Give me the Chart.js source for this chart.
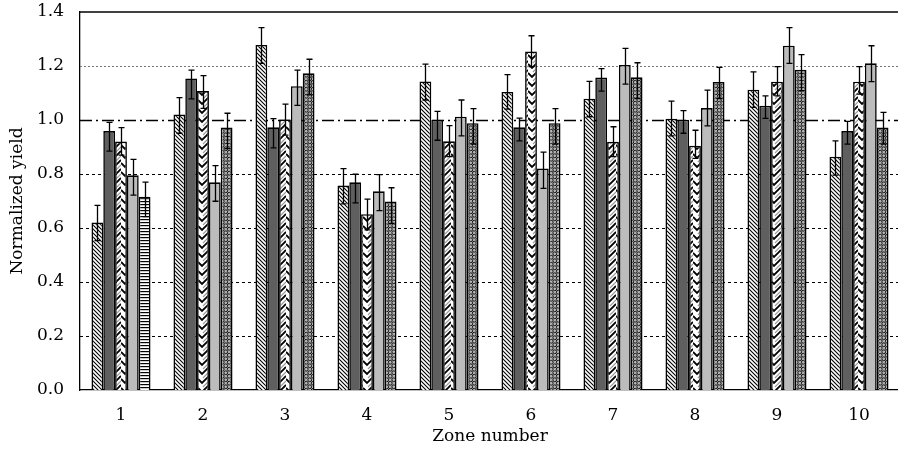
<!DOCTYPE html>
<html>
<head>
<meta charset="utf-8">
<script src="https://cdn.jsdelivr.net/npm/chart.js@4.4.1/dist/chart.umd.min.js"></script>
<style>
  body { margin: 0; overflow: hidden; background: #fff; }
</style>
</head>
<body>
<canvas id="grafico" width="900" height="449"></canvas>
<script>
const zones = ['1', '2', '3', '4', '5', '6', '7', '8', '9', '10'];
const yTicks = [0, 0.2, 0.4, 0.6, 0.8, 1.0, 1.2, 1.4];

// bar heights for each of the five series
const serie1 = [0.62, 1.02, 1.278, 0.757, 1.143, 1.104, 1.079, 1.005, 1.112, 0.864];
const serie2 = [0.959, 1.154, 0.973, 0.769, 1.001, 0.973, 1.157, 1.001, 1.053, 0.959];
const serie3 = [0.92, 1.107, 1.002, 0.651, 0.921, 1.254, 0.919, 0.905, 1.142, 1.142];
const serie4 = [0.795, 0.769, 1.125, 0.736, 1.012, 0.82, 1.204, 1.044, 1.275, 1.21];
const serie5 = [0.716, 0.972, 1.173, 0.698, 0.988, 0.988, 1.158, 1.141, 1.186, 0.972];

// error bar ends [low, high]
const err1 = [[0.553, 0.684], [0.951, 1.083], [1.21, 1.342], [0.689, 0.82], [1.074, 1.207], [1.04, 1.168], [1.012, 1.143], [0.941, 1.07], [1.047, 1.178], [0.796, 0.923]];
const err2 = [[0.885, 0.991], [1.078, 1.185], [0.897, 1.005], [0.693, 0.799], [0.925, 1.032], [0.923, 1.007], [1.107, 1.19], [0.951, 1.035], [1.006, 1.089], [0.911, 0.995]];
const err3 = [[0.87, 0.972], [1.043, 1.164], [0.944, 1.059], [0.593, 0.707], [0.864, 0.979], [1.198, 1.312], [0.864, 0.975], [0.858, 0.962], [1.089, 1.198], [1.096, 1.198]];
const err4 = [[0.722, 0.854], [0.699, 0.831], [1.054, 1.185], [0.664, 0.798], [0.941, 1.074], [0.747, 0.881], [1.133, 1.265], [0.978, 1.111], [1.21, 1.342], [1.142, 1.275]];
const err5 = [[0.642, 0.77], [0.894, 1.025], [1.093, 1.225], [0.617, 0.749], [0.911, 1.042], [0.911, 1.042], [1.079, 1.212], [1.079, 1.195], [1.109, 1.242], [0.911, 1.028]];

const errores = [err1, err2, err3, err4, err5];

const ctx = document.getElementById('grafico');
const c2d = ctx.getContext('2d');

function tile(w, h, dibujar) {
    const c = document.createElement('canvas');
    c.width = w;
    c.height = h;
    dibujar(c.getContext('2d'));
    return c2d.createPattern(c, 'repeat');
}

// diagonal hatch
const rayado = tile(4, 4, g => {
    g.fillStyle = '#fff';
    g.fillRect(0, 0, 4, 4);
    g.strokeStyle = '#000';
    g.lineWidth = 1.1;
    g.beginPath();
    g.moveTo(-1, -1); g.lineTo(5, 5);
    g.moveTo(-1, 3); g.lineTo(1, 5);
    g.moveTo(3, -1); g.lineTo(5, 1);
    g.stroke();
});

// zigzag
const zigzag = tile(11, 9, g => {
    g.fillStyle = '#fff';
    g.fillRect(0, 0, 11, 9);
    for (const y0 of [-9, 0, 9]) {
        g.strokeStyle = '#999';
        g.lineWidth = 1.2;
        g.beginPath();
        g.moveTo(5, y0 + 9); g.lineTo(11, y0 + 3);
        g.stroke();
        g.strokeStyle = '#000';
        g.lineWidth = 1.8;
        g.beginPath();
        g.moveTo(0, y0 + 1); g.lineTo(4, y0 + 5); g.lineTo(11, y0 - 2);
        g.stroke();
    }
});

// grey with little rings
const anillos = tile(7, 7, g => {
    g.fillStyle = '#b5b5b5';
    g.fillRect(0, 0, 7, 7);
    g.strokeStyle = '#111';
    g.lineWidth = 1;
    for (const [x, y] of [[1.75, 1.75], [5.25, 5.25], [8.75, 1.75], [-1.75, 5.25], [1.75, 8.75], [5.25, -1.75]]) {
        g.beginPath();
        g.arc(x, y, 1.9, 0, Math.PI * 2);
        g.stroke();
    }
});

// horizontal stripes
const franjas = tile(4, 3, g => {
    g.fillStyle = '#fff';
    g.fillRect(0, 0, 4, 3);
    g.fillStyle = '#000';
    g.fillRect(0, 0, 4, 1.2);
});

const fuente = { family: 'DejaVu Serif', size: 17 };

const lineasGuia = {
    id: 'lineasGuia',
    beforeDatasetsDraw(chart) {
        const y = chart.scales.y;
        const { left, right } = chart.chartArea;
        const g = chart.ctx;
        g.save();
        yTicks.forEach(v => {
            if (v === 0 || v === 1.4) return;
            const py = Math.round(y.getPixelForValue(v)) + 0.5;
            g.beginPath();
            if (v === 1.0) {
                g.strokeStyle = '#000';
                g.lineWidth = 1.6;
                g.setLineDash([12, 4, 2, 4]);
            } else if (v === 1.2) {
                g.strokeStyle = '#777';
                g.lineWidth = 1;
                g.setLineDash([2, 2]);
            } else {
                g.strokeStyle = '#000';
                g.lineWidth = 1;
                g.setLineDash([3, 3]);
            }
            g.moveTo(left, py);
            g.lineTo(right, py);
            g.stroke();
        });
        g.restore();
    },
    afterDraw(chart) {
        // top frame line
        const y = chart.scales.y;
        const { left, right } = chart.chartArea;
        const g = chart.ctx;
        const py = y.getPixelForValue(1.4);
        g.save();
        g.strokeStyle = '#000';
        g.lineWidth = 1.3;
        g.beginPath();
        g.moveTo(left, py);
        g.lineTo(right, py);
        g.stroke();
        g.restore();
    }
};

const barrasError = {
    id: 'barrasError',
    afterDatasetsDraw(chart) {
        const y = chart.scales.y;
        const g = chart.ctx;
        g.save();
        g.strokeStyle = '#000';
        g.lineWidth = 1.3;
        chart.data.datasets.forEach((ds, i) => {
            const meta = chart.getDatasetMeta(i);
            meta.data.forEach((barra, j) => {
                const [lo, hi] = errores[i][j];
                const x = Math.round(barra.x) + 0.5;
                const y1 = y.getPixelForValue(hi);
                const y2 = y.getPixelForValue(lo);
                g.beginPath();
                g.moveTo(x, y1); g.lineTo(x, y2);
                g.moveTo(x - 3, y1); g.lineTo(x + 3, y1);
                g.moveTo(x - 3, y2); g.lineTo(x + 3, y2);
                g.stroke();
            });
        });
        g.restore();
    }
};

const comun = { borderColor: '#000', borderWidth: 1.6 };

new Chart(ctx, {
    type: 'bar',
    data: {
        labels: zones,
        datasets: [
            { label: 'Serie 1', data: serie1, backgroundColor: rayado, ...comun },
            { label: 'Serie 2', data: serie2, backgroundColor: '#5f5f5f', ...comun },
            { label: 'Serie 3', data: serie3, backgroundColor: zigzag, ...comun },
            { label: 'Serie 4', data: serie4, backgroundColor: '#bcbcbc', ...comun },
            { label: 'Serie 5', data: serie5, backgroundColor: zones.map((z, i) => i === 0 ? franjas : anillos), ...comun }
        ]
    },
    options: {
        responsive: false,
        animation: false,
        categoryPercentage: 0.72,
        barPercentage: 1.0,
        layout: { padding: { top: 12, right: 0, left: 0, bottom: 0 } },
        plugins: {
            legend: { display: false },
            tooltip: { enabled: false }
        },
        scales: {
            x: {
                grid: { display: false },
                border: { color: '#000', width: 1.3 },
                ticks: { color: '#000', font: fuente, padding: 7 },
                title: { display: true, text: 'Zone number', color: '#000', font: fuente, padding: { top: 0, bottom: 2 } },
                afterFit: s => { s.height = 59; s.paddingLeft = 0; s.paddingRight = 0; }
            },
            y: {
                min: 0,
                max: 1.4,
                grid: { display: false },
                border: { color: '#000', width: 1.3 },
                ticks: {
                    stepSize: 0.2,
                    color: '#000',
                    font: fuente,
                    padding: 8,
                    callback: v => v.toFixed(1)
                },
                title: { display: true, text: 'Normalized yield', color: '#000', font: fuente, padding: { top: 7, bottom: 0 } },
                afterFit: s => { s.width = 80; s.paddingTop = 0; s.paddingBottom = 0; }
            }
        }
    },
    plugins: [lineasGuia, barrasError]
});
</script>
</body>
</html>
